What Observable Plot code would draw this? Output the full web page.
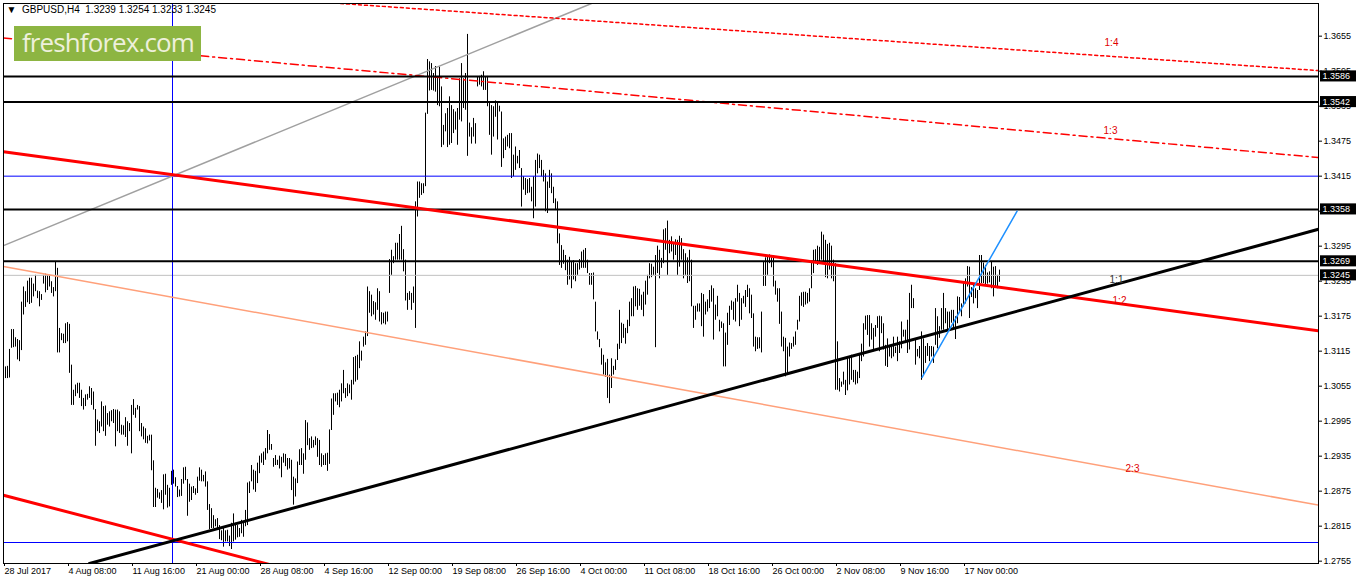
<!DOCTYPE html>
<html>
<head>
<meta charset="utf-8">
<script src="https://cdn.jsdelivr.net/npm/d3@7"></script>
<script src="https://cdn.jsdelivr.net/npm/@observablehq/plot@0.6"></script>
<style>
  html, body { margin: 0; padding: 0; background: #fff; }
  #chart { position: relative; width: 1358px; height: 584px; overflow: hidden; }
  #chart svg { position: absolute; left: 0; top: 0; }
  #logo { position: absolute; left: 14px; top: 26px; width: 187px; height: 35px; background: #8db542; z-index: 2; }
  #logo span { position: absolute; left: 8px; top: 3px; font: 26px/26px "Open Sans", sans-serif; letter-spacing: -0.9px; color: #eef0dc; white-space: nowrap; }
</style>
</head>
<body>
<div id="chart"><div id="logo"><span>freshforex.com</span></div></div>
<script>
// GBPUSD H4 bars, 28 Jul 2017 .. 21 Nov 2017 (high / low of each 4 hour bar)
const symbol = "GBPUSD,H4"
const lastBar = [1.3239, 1.3254, 1.3233, 1.3245] // open high low close

const highs = [
  1.3081,1.3088,1.3089,1.3118,1.3152,1.3152,1.3138,1.3135,1.3133,1.3199,
  1.3225,1.3217,1.3235,1.3240,1.3240,1.3230,1.3245,1.3218,1.3217,1.3212,
  1.3245,1.3247,1.3245,1.3245,1.3234,1.3224,1.3268,1.3257,1.3154,1.3145,
  1.3144,1.3162,1.3164,1.3161,1.3091,1.3048,1.3057,1.3060,1.3060,1.3048,
  1.3034,1.3040,1.3041,1.3054,1.3051,1.3045,1.3015,1.2997,1.2994,1.3028,
  1.3020,1.3021,1.3008,1.3011,1.3013,1.3015,1.3014,1.3014,1.3011,1.2988,
  1.2987,1.3001,1.2994,1.2991,1.3022,1.3032,1.3017,1.3022,1.3020,1.2991,
  1.2985,1.2982,1.2969,1.2971,1.2971,1.2927,1.2880,1.2878,1.2872,1.2876,
  1.2903,1.2904,1.2885,1.2880,1.2909,
  1.2911,1.2898,1.2883,1.2877,1.2895,1.2915,1.2916,1.2895,1.2887,1.2882,
  1.2883,1.2879,1.2899,1.2915,1.2911,1.2902,1.2908,1.2891,1.2852,1.2845,
  1.2833,1.2826,1.2828,1.2816,1.2807,1.2811,1.2807,1.2808,1.2798,1.2820,
  1.2836,1.2820,1.2816,1.2811,1.2825,1.2822,1.2842,1.2889,1.2891,1.2919,
  1.2911,1.2909,1.2923,1.2935,1.2939,1.2942,1.2948,1.2979,1.2972,1.2955,
  1.2931,1.2936,1.2928,1.2935,1.2933,1.2939,1.2938,1.2931,1.2931,1.2928,
  1.2899,1.2896,1.2925,1.2946,1.2948,1.2939,1.2996,1.2992,1.2965,1.2968,
  1.2962,1.2968,1.2965,1.2962,1.2939,1.2936,1.2939,1.2940,1.2980,1.3033,
  1.3042,1.3042,1.3043,1.3048,
  1.3059,1.3082,1.3051,1.3059,1.3057,1.3065,1.3104,1.3106,1.3108,1.3131,1.3115,1.3139,1.3148,
  1.3225,1.3217,1.3211,1.3200,1.3198,1.3222,1.3217,1.3181,1.3180,1.3182,
  1.3182,1.3272,1.3288,1.3277,1.3300,1.3300,1.3315,1.3329,1.3289,1.3271,
  1.3214,1.3217,1.3214,1.3225,1.3371,1.3405,1.3405,1.3402,1.3402,1.3523,
  1.3615,1.3611,1.3608,1.3591,1.3603,1.3585,1.3602,1.3568,1.3502,1.3522,
  1.3531,1.3551,1.3536,1.3529,1.3525,1.3531,1.3582,1.3608,1.3582,1.3591,
  1.3658,1.3506,1.3498,1.3514,1.3505,1.3585,1.3586,1.3588,1.3594,1.3585,
  1.3586,1.3542,1.3536,1.3534,1.3544,1.3542,1.3535,1.3525,1.3479,1.3482,
  1.3485,1.3488,1.3488,
  1.3451,1.3465,1.3449,1.3459,1.3428,1.3414,1.3411,1.3409,1.3411,1.3396,
  1.3414,1.3442,1.3453,1.3451,1.3442,1.3425,1.3419,1.3405,1.3425,1.3419,
  1.3396,1.3376,1.3371,1.3316,1.3296,1.3288,1.3279,1.3271,1.3276,1.3268,
  1.3270,1.3265,1.3265,1.3272,1.3285,1.3288,1.3291,1.3271,1.3248,1.3248,
  1.3249,1.3199,1.3148,1.3135,1.3119,1.3108,1.3095,1.3101,1.3074,1.3102,
  1.3089,1.3100,1.3127,1.3185,1.3163,1.3161,1.3154,1.3168,1.3199,1.3205,
  1.3225,1.3226,1.3222,1.3221,1.3211,1.3216,1.3235,1.3245,1.3265,1.3264,
  1.3259,1.3279,1.3295,1.3288,1.3274,1.3323,1.3325,1.3338,1.3305,1.3311,
  1.3299,1.3306,1.3305,1.3312,1.3308,
  1.3289,1.3282,1.3275,1.3288,1.3271,1.3192,1.3192,1.3196,1.3196,1.3214,
  1.3212,1.3199,1.3203,1.3219,1.3227,1.3222,1.3194,1.3209,1.3168,1.3165,
  1.3162,1.3146,1.3180,1.3192,1.3201,1.3199,1.3205,1.3228,1.3214,1.3205,
  1.3209,1.3219,1.3228,1.3222,1.3211,1.3179,1.3139,1.3138,1.3138,1.3182,
  1.3268,1.3275,1.3278,1.3280,1.3275,1.3278,1.3235,1.3222,1.3222,1.3182,
  1.3139,1.3137,1.3122,1.3129,1.3128,1.3139,1.3148,1.3168,1.3209,1.3215,
  1.3216,1.3216,1.3214,1.3222,1.3268,1.3288,1.3289,1.3295,1.3293,1.3319,
  1.3314,1.3305,1.3298,1.3300,1.3295,1.3271,1.3265,1.3131,1.3068,1.3062,
  1.3079,1.3065,1.3105,1.3105,1.3108,
  1.3082,1.3082,1.3079,1.3111,1.3127,1.3162,1.3175,1.3176,1.3176,1.3162,
  1.3154,1.3159,1.3174,1.3175,1.3174,1.3162,1.3125,1.3136,1.3122,1.3122,
  1.3139,1.3122,1.3139,1.3131,1.3165,1.3151,1.3151,1.3168,1.3214,1.3228,
  1.3205,1.3136,1.3118,1.3123,1.3148,1.3136,1.3123,1.3128,1.3123,1.3123,
  1.3122,1.3188,1.3174,1.3157,1.3188,1.3214,1.3188,1.3182,1.3182,1.3185,
  1.3185,1.3174,1.3208,1.3207,1.3196,1.3232,1.3239,1.3260,1.3259,1.3224,
  1.3231,1.3222,1.3219,1.3279,1.3279,1.3266,1.3262,1.3249,1.3251,1.3268,
  1.3259,1.3260,1.3245,1.3254
]

const lows = [
  1.3062,1.3068,1.3068,1.3069,1.3120,1.3121,1.3122,1.3100,1.3097,1.3116,
  1.3177,1.3190,1.3198,1.3195,1.3197,1.3208,1.3217,1.3205,1.3191,1.3202,
  1.3230,1.3215,1.3219,1.3225,1.3214,1.3208,1.3217,1.3112,1.3112,1.3133,
  1.3128,1.3128,1.3131,1.3077,1.3022,1.3022,1.3037,1.3042,1.3034,1.3020,
  1.3014,1.3020,1.3031,1.3034,1.3022,1.3014,1.2952,1.2977,1.2974,1.2985,
  1.2977,1.2969,1.2988,1.2985,1.2994,1.2991,1.2951,1.2977,1.2974,1.2971,
  1.2971,1.2967,1.2952,1.2977,1.2939,1.3005,1.3000,1.3014,1.2977,1.2968,
  1.2963,1.2957,1.2956,1.2961,1.2910,1.2847,1.2847,1.2863,1.2861,1.2854,
  1.2843,1.2868,1.2846,1.2848,1.2885,
  1.2887,1.2882,1.2864,1.2865,1.2866,1.2887,1.2893,1.2832,1.2856,1.2859,
  1.2871,1.2868,1.2871,1.2892,1.2891,1.2891,1.2882,1.2842,1.2809,1.2811,
  1.2811,1.2814,1.2808,1.2792,1.2790,1.2779,1.2788,1.2788,1.2780,1.2775,
  1.2788,1.2791,1.2795,1.2796,1.2802,1.2796,1.2814,1.2816,1.2871,1.2891,
  1.2877,1.2873,1.2888,1.2905,1.2923,1.2919,1.2928,1.2939,1.2945,1.2945,
  1.2916,1.2919,1.2919,1.2913,1.2898,1.2923,1.2917,1.2911,1.2913,1.2876,
  1.2851,1.2865,1.2888,1.2919,1.2919,1.2904,1.2928,1.2953,1.2945,1.2948,
  1.2949,1.2953,1.2933,1.2919,1.2916,1.2919,1.2919,1.2909,1.2921,1.2979,
  1.3005,1.3028,1.3022,1.3018,
  1.3028,1.3042,1.3034,1.3037,1.3042,1.3031,1.3057,1.3062,1.3065,1.3085,1.3098,1.3122,1.3125,
  1.3140,1.3180,1.3174,1.3177,1.3168,1.3185,1.3165,1.3160,1.3162,1.3160,
  1.3165,1.3214,1.3245,1.3265,1.3271,1.3271,1.3271,1.3271,1.3251,1.3201,
  1.3185,1.3202,1.3185,1.3197,1.3154,1.3345,1.3377,1.3382,1.3385,1.3397,
  1.3521,1.3561,1.3562,1.3561,1.3559,1.3536,1.3534,1.3464,1.3468,1.3491,
  1.3464,1.3468,1.3471,1.3488,1.3494,1.3468,1.3511,1.3508,1.3531,1.3528,
  1.3449,1.3482,1.3470,1.3482,1.3470,1.3568,1.3571,1.3568,1.3562,1.3562,
  1.3534,1.3485,1.3451,1.3482,1.3516,1.3477,1.3525,1.3430,1.3445,1.3459,
  1.3465,1.3462,1.3411,
  1.3414,1.3425,1.3436,1.3428,1.3362,1.3391,1.3382,1.3385,1.3386,1.3371,
  1.3342,1.3362,1.3419,1.3428,1.3414,1.3405,1.3354,1.3351,1.3394,1.3385,
  1.3368,1.3356,1.3299,1.3262,1.3257,1.3264,1.3253,1.3228,1.3237,1.3222,
  1.3237,1.3234,1.3245,1.3254,1.3257,1.3257,1.3257,1.3248,1.3228,1.3228,
  1.3203,1.3148,1.3134,1.3121,1.3091,1.3074,1.3070,1.3034,1.3025,1.3051,
  1.3074,1.3082,1.3099,1.3118,1.3128,1.3137,1.3127,1.3145,1.3157,1.3174,
  1.3174,1.3191,1.3185,1.3192,1.3185,1.3174,1.3194,1.3211,1.3239,1.3241,
  1.3245,1.3121,1.3248,1.3239,1.3257,1.3265,1.3288,1.3245,1.3282,1.3285,
  1.3271,1.3279,1.3245,1.3259,1.3271,
  1.3239,1.3245,1.3231,1.3234,1.3191,1.3154,1.3168,1.3182,1.3182,1.3157,
  1.3139,1.3177,1.3182,1.3188,1.3199,1.3134,1.3168,1.3174,1.3148,1.3154,
  1.3088,1.3088,1.3125,1.3159,1.3185,1.3168,1.3165,1.3199,1.3157,1.3168,
  1.3196,1.3190,1.3207,1.3179,1.3171,1.3122,1.3114,1.3118,1.3119,1.3112,
  1.3226,1.3226,1.3245,1.3265,1.3258,1.3225,1.3211,1.3199,1.3161,1.3122,
  1.3114,1.3071,1.3077,1.3105,1.3118,1.3122,1.3125,1.3151,1.3165,1.3192,
  1.3190,1.3194,1.3196,1.3199,1.3222,1.3248,1.3265,1.3262,1.3265,1.3271,
  1.3265,1.3241,1.3239,1.3254,1.3239,1.3234,1.3048,1.3048,1.3045,1.3053,
  1.3057,1.3039,1.3047,1.3057,1.3065,
  1.3061,1.3057,1.3059,1.3068,1.3097,1.3105,1.3151,1.3142,1.3122,1.3134,
  1.3114,1.3139,1.3154,1.3114,1.3145,1.3117,1.3089,1.3087,1.3105,1.3102,
  1.3105,1.3111,1.3097,1.3111,1.3119,1.3139,1.3128,1.3111,1.3117,1.3188,
  1.3188,1.3091,1.3105,1.3102,1.3065,1.3074,1.3094,1.3106,1.3097,1.3105,
  1.3094,1.3125,1.3119,1.3137,1.3151,1.3151,1.3162,1.3151,1.3154,1.3163,
  1.3151,1.3135,1.3162,1.3182,1.3174,1.3191,1.3196,1.3225,1.3171,1.3207,
  1.3196,1.3205,1.3188,1.3219,1.3231,1.3231,1.3228,1.3230,1.3232,1.3222,
  1.3208,1.3225,1.3222,1.3233
]

// time axis: a label every 32 bars
const dateTicks = [0, 32, 64, 96, 128, 160, 192, 224, 256, 288, 320, 352, 384, 416, 448, 480]
const dateLabels = ["28 Jul 2017", "4 Aug 08:00", "11 Aug 16:00", "21 Aug 00:00", "28 Aug 08:00",
  "4 Sep 16:00", "12 Sep 00:00", "19 Sep 08:00", "26 Sep 16:00", "4 Oct 00:00", "11 Oct 08:00",
  "18 Oct 16:00", "26 Oct 00:00", "2 Nov 08:00", "9 Nov 16:00", "17 Nov 00:00"]

const priceTicks = [1.3655, 1.3595, 1.3535, 1.3475, 1.3415, 1.3355, 1.3295, 1.3235,
  1.3175, 1.3115, 1.3055, 1.2995, 1.2935, 1.2875, 1.2815, 1.2755]

// levels and objects drawn on the chart
const blackLevels = [1.3586, 1.3542, 1.3358, 1.3269]
const blueLevels = [1.3415, 1.2787]
const currentPrice = lastBar[3]
const tagLevels = [1.3586, 1.3542, 1.3358, 1.3269, currentPrice]
const crossBar = 84.5

// trend lines as [bar, price] end points
const redChannel = [[0, 1.3457], [657.5, 1.3150]]
const redLower = [[0, 1.2868], [140, 1.2743]]
const blackTrend = [[43, 1.2751], [657.5, 1.3324]]
const grayTrend = [[0, 1.3296], [294, 1.3711]]
const salmonLine = [[0, 1.3260], [657.5, 1.2851]]
const fan14 = [[168.5, 1.3711], [657.5, 1.3596]]
const fan13 = [[0, 1.3652], [657.5, 1.3447]]
const blueTrend = [[459.3, 1.3070], [506.8, 1.3355]]

const redLabels = [
  {bar: 554, price: 1.3644, label: "1:4"},
  {bar: 553.5, price: 1.3492, label: "1:3"},
  {bar: 558, price: 1.3202, label: "1:2"},
  {bar: 564.5, price: 1.2914, label: "2:3"}
]
const darkLabels = [{bar: 556.5, price: 1.3238, label: "1:1"}]

const xMax = 657.5
const tagHalf = 0.00095 // half height of a price tag, in price units
const bars = highs.map((h, i) => ({i, high: h, low: lows[i]}))

let chart = Plot.plot({
  width: 1358,
  height: 584,
  marginLeft: 3,
  marginRight: 40,
  marginTop: 3,
  marginBottom: 21,
  style: {fontFamily: "'Liberation Sans', Arial, sans-serif", fontSize: "9px", background: "white", color: "black"},
  x: {type: "linear", domain: [0, xMax], axis: null},
  y: {type: "linear", domain: [1.2751, 1.3711], axis: null},
  marks: [
    Plot.axisY(priceTicks, {anchor: "right", tickSize: 3, tickPadding: 2, tickFormat: d => d.toFixed(4)}),
    Plot.axisX(dateTicks, {anchor: "bottom", tickSize: 3, tickPadding: 1, textAnchor: "start", dx: 1,
      tickFormat: d => dateLabels[dateTicks.indexOf(d)]}),
    Plot.ruleX(bars, {x: "i", y1: "low", y2: "high", stroke: "black"}),
    Plot.ruleY([currentPrice], {stroke: "#c0c0c0"}),
    Plot.ruleY(blueLevels, {stroke: "#0000ff"}),
    Plot.ruleX([crossBar], {stroke: "#0000ff"}),
    Plot.line(grayTrend, {stroke: "#a0a0a0", clip: true}),
    Plot.line(salmonLine, {stroke: "#ffa07a", clip: true}),
    Plot.line(fan14, {stroke: "red", strokeDasharray: "3,3", clip: true}),
    Plot.line(fan13, {stroke: "red", strokeDasharray: "8,4,2,4", clip: true}),
    Plot.ruleY(blackLevels, {stroke: "black", strokeWidth: 2}),
    Plot.line(redChannel, {stroke: "red", strokeWidth: 3, clip: true}),
    Plot.line(redLower, {stroke: "red", strokeWidth: 3, clip: true}),
    Plot.line(blackTrend, {stroke: "black", strokeWidth: 3, clip: true}),
    Plot.line(blueTrend, {stroke: "#1e90ff", clip: true}),
    Plot.text(redLabels, {x: "bar", y: "price", text: "label", fill: "#e00000", fontSize: 10}),
    Plot.text(darkLabels, {x: "bar", y: "price", text: "label", fill: "#333", fontSize: 10}),
    Plot.text(["\u25BC  " + symbol + "  " + lastBar.join(" ")], {frameAnchor: "top-left", dx: 3, dy: 2,
      textAnchor: "start", lineAnchor: "top", fontSize: 10}),
    // black price tags on the right scale
    Plot.rect(tagLevels, {x1: xMax + 1, x2: xMax + 19, y1: d => d - tagHalf, y2: d => d + tagHalf,
      fill: "black"}),
    Plot.text(tagLevels, {x: xMax, y: d => d, text: d => d.toFixed(4), textAnchor: "start", dx: 4,
      fill: "white"}),
    Plot.frame({stroke: "black"})
  ]
})

document.getElementById("chart").prepend(chart)
</script>
</body>
</html>
